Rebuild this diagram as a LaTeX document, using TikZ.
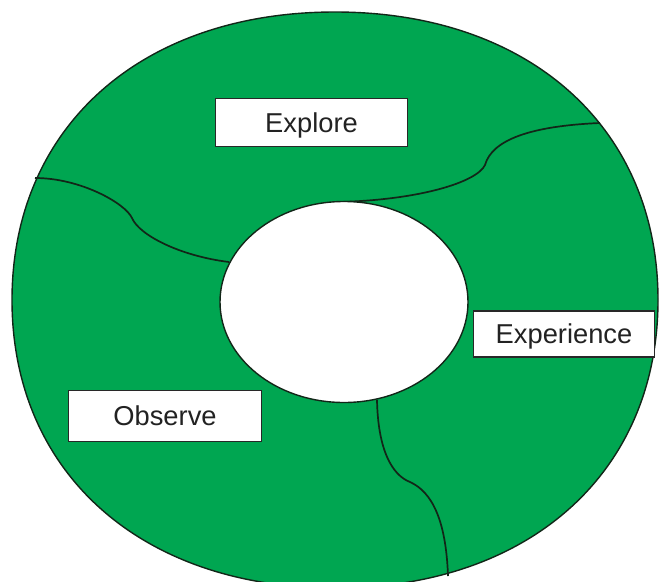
\documentclass[tikz,border=0pt]{standalone}
\usepackage{fontspec}
\setmainfont{Liberation Sans}
\definecolor{ringgreen}{RGB}{0,166,81}
\definecolor{inkline}{RGB}{18,38,24}
\definecolor{boxline}{RGB}{40,40,40}
\definecolor{labeltext}{RGB}{34,34,34}
\tikzset{
  outline/.style={draw=inkline, line width=1.4pt},
  divider/.style={draw=inkline, line width=1.7pt},
  labelbox/.style={draw=boxline, line width=1.6pt, fill=white, text=labeltext,
    font=\fontsize{27.3}{30}\selectfont, inner sep=0pt, text height=19.5pt, text depth=0pt}
}
\begin{document}
\begin{tikzpicture}[x=1pt,y=-1pt]
\useasboundingbox (0,0) rectangle (660,581);
\begin{scope}
  \clip (0,0) rectangle (660,581);
  \path[outline, fill=ringgreen]
    (658,300) .. controls (658,127.2) and (528.8,12) .. (335,12)
    .. controls (141.2,12) and (12,127.2) .. (12,300)
    .. controls (12,472.8) and (141.2,588) .. (335,588)
    .. controls (528.8,588) and (658,472.8) .. (658,300) -- cycle;
\end{scope}
% divider end points
\coordinate (d1a) at (35,178);
\coordinate (d1m) at (132,218);
\coordinate (d1b) at (229,262);
\coordinate (d2a) at (338,202);
\coordinate (d2m) at (485,165);
\coordinate (d2b) at (600,123);
\coordinate (d3a) at (377,400);
\coordinate (d3m) at (410,482);
\coordinate (d3b) at (448,576);
\draw[divider] (d1a) .. controls (80,178) and (125,203) .. (d1m)
  .. controls (139,235) and (180,256) .. (d1b);
\draw[divider] (d2a) .. controls (420,200) and (477,182) .. (d2m)
  .. controls (492,140) and (530,126) .. (d2b);
\draw[divider] (d3a) .. controls (378,450) and (392,475) .. (d3m)
  .. controls (432,492) and (446,520) .. (d3b);
% inner hole
\draw[outline, fill=white] (344,302) ellipse [x radius=124pt, y radius=100.5pt];
\coordinate (hole) at (344,302);
% labels
\node[labelbox, minimum width=192pt, minimum height=48pt] (explore) at (311.5,122.5) {Explore};
\node[labelbox, minimum width=181pt, minimum height=46pt] (experience) at (564,334) {Experience};
\node[labelbox, minimum width=193pt, minimum height=51pt] (observe) at (165,416) {Observe};
\end{tikzpicture}
\end{document}
